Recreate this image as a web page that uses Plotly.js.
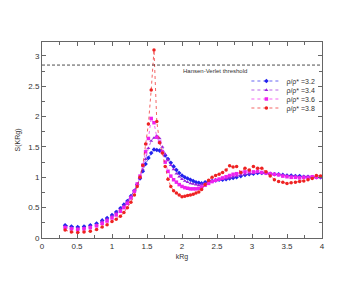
<!DOCTYPE html>
<html><head><meta charset="utf-8">
<script src="https://cdn.plot.ly/plotly-3.0.1.min.js"></script>
<style>html,body{margin:0;padding:0;background:#fff}#chart{width:363px;height:281px}</style>
</head><body><div id="chart"></div>
<script>
const k = [0.33,0.42,0.51,0.60,0.69,0.78,0.86,0.93,1.00,1.06,1.12,1.17,1.22,1.27,1.32,1.36,1.40,1.44,1.48,1.52,1.56,1.60,1.64,1.68,1.72,1.76,1.80,1.84,1.88,1.92,1.96,2.00,2.04,2.08,2.12,2.16,2.20,2.24,2.28,2.33,2.38,2.43,2.48,2.53,2.58,2.63,2.68,2.73,2.78,2.84,2.90,2.96,3.02,3.08,3.14,3.20,3.26,3.32,3.38,3.44,3.50,3.56,3.62,3.68,3.74,3.80,3.86,3.92,3.98];
const s32 = [0.21,0.19,0.18,0.19,0.21,0.24,0.29,0.33,0.38,0.43,0.49,0.55,0.61,0.69,0.78,0.88,0.98,1.10,1.22,1.32,1.40,1.46,1.45,1.44,1.42,1.36,1.30,1.24,1.18,1.12,1.07,1.03,1.00,0.98,0.96,0.94,0.92,0.91,0.90,0.92,0.93,0.94,0.95,0.96,0.96,0.97,0.98,0.99,1.00,1.02,1.04,1.05,1.06,1.07,1.07,1.07,1.06,1.05,1.05,1.04,1.03,1.03,1.02,1.02,1.01,1.01,1.00,1.00,1.00];
const s34 = [0.19,0.17,0.16,0.17,0.19,0.22,0.27,0.31,0.36,0.41,0.47,0.53,0.60,0.68,0.78,0.88,0.99,1.13,1.30,1.48,1.60,1.65,1.68,1.64,1.50,1.38,1.28,1.20,1.13,1.06,1.01,0.97,0.94,0.92,0.90,0.89,0.88,0.87,0.88,0.90,0.92,0.94,0.95,0.96,0.97,0.98,0.99,1.01,1.02,1.04,1.05,1.06,1.07,1.08,1.08,1.07,1.06,1.05,1.04,1.04,1.03,1.02,1.02,1.01,1.01,1.00,1.00,1.00,1.00];
const s36 = [0.17,0.15,0.14,0.15,0.17,0.20,0.24,0.28,0.33,0.38,0.44,0.50,0.57,0.66,0.77,0.89,1.02,1.20,1.42,1.64,1.97,1.90,1.66,1.58,1.42,1.25,1.10,1.02,0.96,0.92,0.88,0.85,0.83,0.82,0.81,0.81,0.81,0.82,0.84,0.87,0.90,0.93,0.95,0.97,0.99,1.01,1.03,1.05,1.06,1.08,1.09,1.10,1.09,1.10,1.08,1.07,1.06,1.05,1.04,1.02,1.01,1.00,1.00,0.99,1.00,1.00,1.01,1.00,1.01];
const s38 = [0.13,0.10,0.09,0.10,0.11,0.14,0.18,0.22,0.27,0.31,0.36,0.42,0.50,0.59,0.71,0.85,1.00,1.20,1.55,1.88,2.44,3.10,1.92,1.57,1.40,1.18,0.97,0.85,0.78,0.74,0.71,0.68,0.69,0.70,0.71,0.72,0.74,0.76,0.80,0.88,0.95,1.00,1.03,1.05,1.08,1.12,1.19,1.17,1.18,1.08,1.15,1.12,1.18,1.15,1.15,1.09,1.02,0.96,0.93,0.92,0.90,0.91,0.92,0.93,0.94,0.96,0.98,1.03,1.02];
const seriesNames = ['ρ/ρ* =3.2','ρ/ρ* =3.4','ρ/ρ* =3.6','ρ/ρ* =3.8'];
const seriesColors = ['#2222ee','#9922dd','#ee22ee','#ee2222'];
const seriesSymbols = ['diamond','triangle-up','square','circle'];
const hvThreshold = 2.85;
const hvLabel = 'Hansen-Verlet threshold';

const ys = [s32,s34,s36,s38];
const traces = ys.map((y,i)=>({
  x:k, y:y, type:'scatter', mode:'lines+markers', name:seriesNames[i],
  line:{color:seriesColors[i], width:0.7, dash:'dot'},
  marker:{color:seriesColors[i], size:3.5, symbol:seriesSymbols[i]}
}));
traces.push({x:[0,4], y:[hvThreshold,hvThreshold], type:'scatter', mode:'lines',
  line:{color:'#000', width:0.7, dash:'3px,2px'}, showlegend:false, hoverinfo:'skip'});

const axisCommon = {showline:true, linecolor:'#666', linewidth:1, mirror:'ticks', ticks:'inside',
  ticklen:4, tickcolor:'#666', showgrid:false, zeroline:false,
  tickfont:{family:'Liberation Sans, Arial', size:8, color:'#333'}};
const layout = {
  width:363, height:281, margin:{l:42, r:41, t:42, b:43},
  paper_bgcolor:'#fff', plot_bgcolor:'#fff',
  xaxis:Object.assign({}, axisCommon, {range:[0,4], dtick:0.5, tick0:0,
    minor:{ticks:'inside', ticklen:3, dtick:0.25, tickcolor:'#666'},
    title:{text:'kRg', font:{family:'Liberation Sans, Arial', size:7, color:'#333'}, standoff:4}}),
  yaxis:Object.assign({}, axisCommon, {range:[0,3.23], dtick:0.5, tick0:0,
    minor:{ticks:'inside', ticklen:3, dtick:0.25, tickcolor:'#666'},
    title:{text:'S(KRg)', font:{family:'Liberation Sans, Arial', size:7, color:'#333'}, standoff:6}}),
  showlegend:true,
  legend:{x:0.73, y:0.875, xanchor:'left', yanchor:'top', bgcolor:'rgba(0,0,0,0)',
    font:{family:'Liberation Sans, Arial', size:7, color:'#333'}, itemwidth:30, tracegroupgap:0},
  annotations:[{x:1.98, y:hvThreshold, xref:'x', yref:'y', text:hvLabel, showarrow:false,
    xanchor:'left', yanchor:'top', yshift:-1, font:{family:'Liberation Sans, Arial', size:6, color:'#333'}}]
};
Plotly.newPlot('chart', traces, layout, {displayModeBar:false, staticPlot:true}).then(gd => {
  const items = gd.querySelectorAll('.legend .traces');
  let x0 = 0, y0 = 0;
  items.forEach((el, i) => {
    const m = /translate\(([-\d.]+)[ ,]+([-\d.]+)\)/.exec(el.getAttribute('transform') || '');
    if (i === 0 && m) { x0 = parseFloat(m[1]); y0 = parseFloat(m[2]); }
    el.setAttribute('transform', 'translate(' + x0 + ',' + (y0 + i * 9) + ')');
  });
});
</script></body></html>
